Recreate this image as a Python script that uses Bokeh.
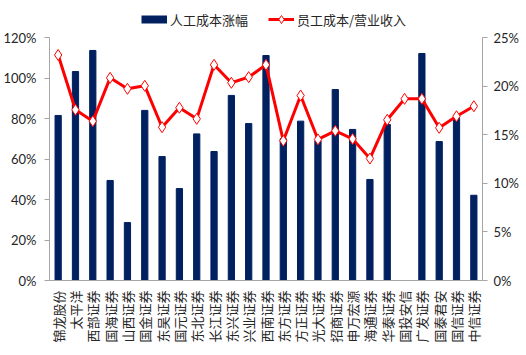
import math
from bokeh.plotting import figure
from bokeh.models import (ColumnDataSource, FactorRange, Range1d, LinearAxis,
                          NumeralTickFormatter, FixedTicker, Legend, LegendItem)
from bokeh.embed import file_html
from bokeh.resources import INLINE

categories = ["锦龙股份", "太平洋", "西部证券", "国海证券", "山西证券", "国金证券", "东吴证券",
              "国元证券", "东北证券", "长江证券", "东兴证券", "兴业证券", "西南证券", "东方证券",
              "方正证券", "光大证券", "招商证券", "申万宏源", "海通证券", "华泰证券", "国投安信",
              "广发证券", "国泰君安", "国信证券", "中信证券"]
labor_growth = [0.815, 1.032, 1.136, 0.494, 0.286, 0.840, 0.612, 0.454, 0.724, 0.637,
                0.914, 0.775, 1.111, 0.700, 0.787, 0.690, 0.943, 0.746, 0.499, 0.770,
                float("nan"), 1.121, 0.686, 0.805, 0.421]
cost_ratio = [0.232, 0.1756, 0.1639, 0.2085, 0.1972, 0.2003, 0.1577, 0.1777, 0.1663, 0.2219,
              0.2034, 0.2092, 0.2219, 0.1437, 0.1903, 0.1451, 0.1540, 0.1457, 0.1255, 0.1653,
              0.1869, 0.1869, 0.1571, 0.1690, 0.1793]
left_ticks = [0, 0.2, 0.4, 0.6, 0.8, 1.0, 1.2]
right_ticks = [0, 0.05, 0.10, 0.15, 0.20, 0.25]

NAVY = "#002060"
RED = "#FF0000"
AXIS_GRAY = "#A6A6A6"
TXT = "#262626"

# frame spans screen y 0..280; the axes' top (120% / 25%) sits at y = 37
FRAME_H = 280
AXIS_H = 243
left_end = left_ticks[-1] * FRAME_H / AXIS_H
right_end = right_ticks[-1] * FRAME_H / AXIS_H

src = ColumnDataSource(dict(cat=categories, bar=labor_growth, ratio=cost_ratio))
leg_src = ColumnDataSource(dict(x=[categories[0]], y=[-1.0]))

p = figure(width=526, height=355, x_range=FactorRange(*categories, range_padding=0),
           y_range=Range1d(0, left_end), output_backend="svg", toolbar_location=None,
           min_border_left=48, min_border_right=44, min_border_top=0, min_border_bottom=75)
p.extra_y_ranges = {"right": Range1d(0, right_end)}

bars = p.vbar(x="cat", top="bar", width=0.36, source=src, color=NAVY)
ln = p.line(x="cat", y="ratio", source=src, color=RED, line_width=3, y_range_name="right")
mk = p.scatter(x="cat", y="ratio", source=src, marker="diamond", size=11,
               fill_color="white", line_color=RED, line_width=1, y_range_name="right")
dummy_bar = p.line(x="x", y="y", source=leg_src, color=NAVY, line_width=8)

p.xgrid.visible = False
p.ygrid.visible = False
p.outline_line_color = None

# left axis
ya = p.yaxis[0]
ya.ticker = FixedTicker(ticks=left_ticks)
ya.bounds = (left_ticks[0], left_ticks[-1])
ya.formatter = NumeralTickFormatter(format="0%")
ya.axis_line_color = AXIS_GRAY
ya.major_tick_line_color = AXIS_GRAY
ya.major_tick_out = 5
ya.major_tick_in = 0
ya.minor_tick_line_color = None
ya.major_label_text_font = "Lato"
ya.major_label_text_font_size = "13px"
ya.major_label_text_color = TXT
ya.major_label_standoff = 8

ra = LinearAxis(y_range_name="right", ticker=FixedTicker(ticks=right_ticks),
                formatter=NumeralTickFormatter(format="0%"),
                bounds=(right_ticks[0], right_ticks[-1]))
ra.axis_line_color = AXIS_GRAY
ra.major_tick_line_color = AXIS_GRAY
ra.major_tick_out = 5
ra.major_tick_in = 0
ra.minor_tick_line_color = None
ra.major_label_text_font = "Lato"
ra.major_label_text_font_size = "13px"
ra.major_label_text_color = TXT
ra.major_label_standoff = 6
p.add_layout(ra, "right")

xa = p.xaxis[0]
xa.axis_line_color = AXIS_GRAY
xa.major_tick_line_color = None
xa.minor_tick_line_color = None
xa.major_label_orientation = math.pi / 2
xa.major_label_text_font = "Noto Sans CJK SC"
xa.major_label_text_font_size = "13px"
xa.major_label_text_color = TXT
xa.major_label_standoff = 4

legend = Legend(items=[LegendItem(label="人工成本涨幅", renderers=[dummy_bar]),
                       LegendItem(label="员工成本/营业收入", renderers=[ln, mk])],
                orientation="horizontal", location=(92, 251),
                glyph_width=26, glyph_height=20, label_text_font="Noto Sans CJK SC",
                label_text_font_size="13px", label_text_color=TXT,
                border_line_color=None, background_fill_alpha=0,
                padding=2, margin=0, spacing=20, label_standoff=3)
p.add_layout(legend, "center")

open("out.html", "w").write(file_html(p, INLINE))
